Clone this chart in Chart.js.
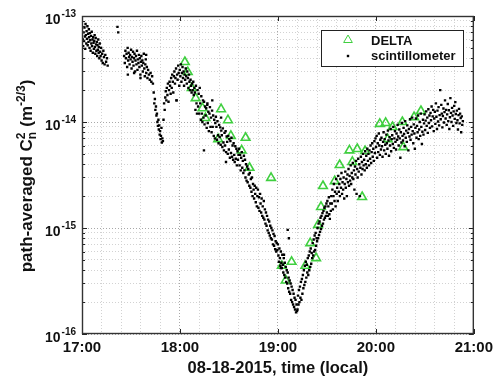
<!DOCTYPE html>
<html>
<head>
<meta charset="utf-8">
<script src="https://cdn.jsdelivr.net/npm/chart.js@4.4.1/dist/chart.umd.min.js"></script>
<style>
html, body { margin: 0; padding: 0; background: #fff; }
</style>
</head>
<body>
<canvas id="myChart" width="498" height="377"></canvas>
<script>
// values are Cn2 in units of 1e-15 m^-2/3, time in decimal hours (local)
var UNIT = 1e-15;

var deltaTime = [18.05, 18.08, 18.12, 18.16, 18.23, 18.26, 18.42, 18.49, 18.39, 18.52, 18.67, 18.63, 18.71, 18.93,
	19.04, 19.08, 19.14, 19.28, 19.39, 19.33, 19.41, 19.44, 19.46, 19.58, 19.63, 19.73, 19.81, 19.89, 19.76, 19.86,
	20.04, 20.10, 20.17, 20.27, 20.39, 20.46, 20.28, 20.12];
var deltaCn2 = [36.8, 29.6, 20.9, 16.8, 13.5, 10.9, 13.2, 10.4, 6.9, 7.4, 7.1, 5.4, 3.7, 2.97,
	0.44, 0.32, 0.48, 0.44, 0.52, 0.72, 1.07, 1.58, 2.49, 2.77, 3.93, 5.4, 5.56, 5.32, 4.2, 1.96,
	9.6, 9.8, 8.97, 10, 11.1, 12.7, 5.8, 6.9];

var scintTime = [
	17.008, 17.012, 17.017, 17.021, 17.025, 17.029, 17.033, 17.036, 17.040, 17.044,
	17.047, 17.051, 17.055, 17.058, 17.062, 17.066, 17.070, 17.073, 17.077, 17.081,
	17.084, 17.088, 17.092, 17.095, 17.099, 17.103, 17.107, 17.110, 17.114, 17.118,
	17.121, 17.125, 17.129, 17.132, 17.136, 17.140, 17.144, 17.147, 17.151, 17.155,
	17.158, 17.162, 17.166, 17.170, 17.173, 17.177, 17.181, 17.185, 17.190, 17.195,
	17.200, 17.206, 17.212, 17.218, 17.224, 17.231, 17.238, 17.246, 17.255, 17.262,
	17.362, 17.370,
	17.430, 17.437, 17.443, 17.449, 17.455, 17.461, 17.466, 17.471, 17.476, 17.481,
	17.486, 17.491, 17.496, 17.501, 17.506, 17.511, 17.516, 17.521, 17.526, 17.531,
	17.536, 17.541, 17.546, 17.551, 17.556, 17.561, 17.566, 17.571, 17.576, 17.581,
	17.586, 17.591, 17.596, 17.601, 17.606, 17.611, 17.616, 17.621, 17.626, 17.631,
	17.636, 17.641, 17.646, 17.651, 17.656, 17.662, 17.668, 17.675, 17.683, 17.692,
	17.700, 17.708, 17.716, 17.724, 17.468, 17.532, 17.597, 17.655,
	17.732, 17.738, 17.744, 17.749, 17.755, 17.760, 17.765, 17.770, 17.775, 17.780,
	17.784, 17.788, 17.793, 17.797, 17.802, 17.806, 17.811, 17.815, 17.820, 17.826,
	17.832, 17.838, 17.844, 17.850, 17.855, 17.861, 17.866, 17.872, 17.877, 17.883,
	17.888, 17.894, 17.899, 17.905, 17.910, 17.916, 17.921, 17.927, 17.932, 17.938,
	17.943, 17.949, 17.954, 17.960, 17.965, 17.971, 17.976, 17.982, 17.987, 17.993,
	17.998, 18.004, 18.009, 18.015, 18.020, 18.026, 18.031, 18.037, 18.042, 18.048,
	18.053, 18.059, 18.064, 18.070, 18.075, 18.081, 18.086, 18.092, 18.097, 18.103,
	18.108, 18.114, 18.119, 18.125, 18.130, 18.136, 18.141, 18.147,
	18.152, 18.158, 18.163, 18.169, 18.174, 18.180, 18.185, 18.191, 18.196, 18.202,
	18.207, 18.213, 18.218, 18.224, 18.229, 18.235, 18.240, 18.246, 18.251, 18.257,
	18.262, 18.268, 18.273, 18.279, 18.284, 18.290, 18.295, 18.301, 18.306, 18.312,
	18.317, 18.323, 18.328, 18.334, 18.339, 18.345, 18.350, 18.356, 18.361, 18.367,
	18.372, 18.378, 18.383, 18.389, 18.394, 18.400, 18.405, 18.411, 18.416, 18.422,
	18.427, 18.433, 18.438, 18.444, 18.449, 18.455, 18.460, 18.466, 18.471, 18.477,
	18.482, 18.488, 18.493, 18.499, 18.504, 18.510, 18.515, 18.521, 18.526, 18.532,
	18.537, 18.543, 18.548, 18.554, 18.559, 18.565, 18.570, 18.576, 18.581, 18.587,
	18.592, 18.598, 18.330, 18.245, 18.470, 17.965, 18.420, 18.280,
	18.603, 18.609, 18.614, 18.620, 18.625, 18.631, 18.636, 18.642, 18.647, 18.653,
	18.658, 18.664, 18.669, 18.675, 18.680, 18.686, 18.691, 18.697, 18.702, 18.708,
	18.713, 18.719, 18.724, 18.730, 18.735, 18.741, 18.746, 18.752, 18.757, 18.763,
	18.768, 18.774, 18.779, 18.785, 18.790, 18.796, 18.801, 18.807, 18.812, 18.818,
	18.823, 18.829, 18.834, 18.840, 18.845, 18.851, 18.856, 18.862, 18.867, 18.873,
	18.878, 18.884, 18.889, 18.895, 18.900, 18.906, 18.911, 18.917, 18.922, 18.928,
	18.933, 18.939, 18.944, 18.950, 18.955, 18.961, 18.966, 18.972, 18.977, 18.983,
	18.988, 18.994,
	19.000, 19.005, 19.010, 19.015, 19.020, 19.025, 19.030, 19.035, 19.040, 19.045,
	19.050, 19.055, 19.060, 19.065, 19.070, 19.075, 19.080, 19.085, 19.090, 19.095,
	19.100, 19.105, 19.110, 19.115, 19.120, 19.125, 19.130, 19.135, 19.140, 19.145,
	19.150, 19.155, 19.160, 19.165, 19.170, 19.175, 19.180, 19.185, 19.190, 19.195,
	19.100, 19.112, 19.030, 19.062,
	19.200, 19.205, 19.210, 19.215, 19.220, 19.225, 19.230, 19.235, 19.240, 19.245,
	19.250, 19.255, 19.260, 19.265, 19.270, 19.275, 19.280, 19.285, 19.290, 19.295,
	19.300, 19.305, 19.310, 19.315, 19.320, 19.325, 19.330, 19.335, 19.340, 19.345,
	19.350, 19.355, 19.360, 19.365, 19.370, 19.375, 19.380, 19.385, 19.390, 19.395,
	19.400, 19.405, 19.410, 19.415, 19.420, 19.425, 19.430, 19.435, 19.440, 19.445,
	19.450, 19.455, 19.460, 19.465, 19.470, 19.475, 19.480, 19.485, 19.490, 19.495,
	19.500, 19.505, 19.510, 19.515, 19.520, 19.525, 19.530, 19.535, 19.540, 19.545,
	19.550, 19.556, 19.561, 19.567, 19.572, 19.578, 19.583, 19.589, 19.594, 19.600,
	19.605, 19.611, 19.616, 19.622, 19.627, 19.633, 19.638, 19.644, 19.649, 19.655,
	19.660, 19.666, 19.671, 19.677, 19.682, 19.688, 19.693, 19.699, 19.704, 19.710,
	19.715, 19.721, 19.726, 19.732, 19.737, 19.743, 19.748, 19.754, 19.759, 19.765,
	19.770, 19.776, 19.781, 19.787, 19.792, 19.798, 19.803, 19.809, 19.814, 19.820,
	19.825, 19.831, 19.836, 19.842, 19.847, 19.853, 19.858, 19.864, 19.869, 19.875,
	19.880, 19.886, 19.891, 19.897, 19.902, 19.908, 19.913, 19.919, 19.924, 19.930,
	19.935, 19.941, 19.946, 19.952, 19.957, 19.963, 19.968, 19.974, 19.979, 19.985,
	19.990, 19.996,
	20.002, 20.008, 20.013, 20.019, 20.024, 20.030, 20.035, 20.041, 20.046, 20.052,
	20.057, 20.063, 20.068, 20.074, 20.079, 20.085, 20.090, 20.096, 20.101, 20.107,
	20.112, 20.118, 20.123, 20.129, 20.134, 20.140, 20.145, 20.151, 20.156, 20.162,
	20.167, 20.173, 20.178, 20.184, 20.189, 20.195, 20.200, 20.206, 20.211, 20.217,
	20.222, 20.228, 20.233, 20.239, 20.244, 20.250, 20.255, 20.261, 20.266, 20.272,
	20.277, 20.283, 20.288, 20.294, 20.299, 20.305, 20.310, 20.316, 20.321, 20.327,
	20.332, 20.338, 20.343, 20.349, 20.354, 20.360, 20.365, 20.371, 20.376, 20.382,
	20.387, 20.393, 20.398, 20.404, 20.409, 20.415, 20.420, 20.426, 20.431, 20.437,
	20.442, 20.448, 20.453, 20.459, 20.464, 20.470, 20.475, 20.481, 20.486, 20.492,
	20.497, 20.503, 20.508, 20.514, 20.519, 20.525, 20.530, 20.536, 20.541, 20.547,
	20.552, 20.558, 20.563, 20.569, 20.574, 20.580, 20.585, 20.591, 20.596, 20.602,
	20.607, 20.613, 20.618, 20.624, 20.629, 20.635, 20.640, 20.646, 20.651, 20.657,
	20.662, 20.668, 20.673, 20.679, 20.684, 20.690, 20.695, 20.701, 20.706, 20.712,
	20.717, 20.723, 20.728, 20.734, 20.739, 20.745, 20.750, 20.756, 20.761, 20.767,
	20.772, 20.778, 20.783, 20.789, 20.794, 20.800, 20.805, 20.811, 20.816, 20.822,
	20.827, 20.833, 20.838, 20.844, 20.849, 20.855, 20.860, 20.866, 20.871, 20.877,
	20.882, 20.888
];
var scintCn2 = [
	60, 52, 70, 58, 78, 64, 49, 84, 66, 55,
	72, 61, 80, 53, 68, 57, 75, 63, 50, 69,
	59, 47, 65, 55, 71, 52, 60, 45, 63, 56,
	49, 58, 66, 51, 44, 62, 54, 47, 57, 42,
	53, 48, 60, 45, 51, 40, 55, 46, 42, 50,
	38, 44, 36, 47, 41, 35, 43, 37, 40, 34,
	79, 70,
	42, 36, 47, 40, 44, 33, 50, 38, 45, 41,
	35, 43, 39, 48, 32, 41, 37, 46, 34, 40,
	44, 30, 38, 42, 35, 47, 31, 39, 36, 43,
	33, 40, 28, 37, 42, 34, 38, 30, 36, 44,
	32, 27, 35, 39, 29, 33, 26, 31, 28, 25,
	29, 24, 27, 23, 28, 29, 26, 43,
	19, 15, 16.5, 13, 14, 11.5, 12, 10, 9.2, 10.5,
	8.5, 9.3, 7.6, 8.2, 6.9, 7.4, 8.8, 6.4, 7.0, 6.6,
	10.5, 15, 13, 17, 19.5, 16, 21, 18, 23, 15.5,
	20, 24, 22, 18.5, 26, 21, 28, 24, 19, 27,
	30, 23, 26, 32, 16, 28, 25, 34, 29, 22,
	31, 27, 35, 24, 29, 33, 26, 30, 22, 28,
	25, 32, 27, 23, 30, 26, 21, 28, 24, 20,
	25, 22, 19, 23, 20, 24, 18, 21,
	19, 13, 22, 15, 12, 20, 14, 18.5, 12, 21,
	15, 10.5, 17.5, 12, 10, 16, 11, 15.5, 9.5, 14,
	11.5, 13.5, 8.8, 14.5, 9.8, 12.5, 8.2, 12, 13.8, 9,
	11, 8, 12.8, 9, 11.5, 7.4, 10.5, 7, 9.8, 11.2,
	9, 6.8, 10.2, 7.5, 6.3, 9.4, 7.2, 8.9, 6.1, 8.3,
	7.5, 5.8, 8.7, 6.4, 5.4, 7.9, 6.0, 8.2, 5.2, 7.3,
	6.5, 5.0, 7.4, 5.5, 6.9, 4.6, 6.6, 5.1, 7.1, 4.7,
	6.0, 4.4, 6.3, 4.9, 4.2, 5.9, 4.5, 5.6, 3.9, 5.3,
	4.4, 4.9, 16, 5.4, 4.2, 16, 11, 15,
	5.6, 3.9, 4.9, 3.5, 4.6, 5.2, 3.7, 4.3, 3.3, 4.8,
	3.5, 4.4, 3.0, 4.0, 2.8, 3.8, 2.7, 3.6, 3.2, 2.5,
	3.3, 2.4, 2.9, 2.2, 3.0, 2.0, 2.6, 2.3, 1.9, 2.5,
	2.1, 1.75, 2.4, 1.6, 2.0, 2.3, 1.55, 1.95, 1.45, 2.1,
	1.7, 1.4, 1.9, 1.3, 1.6, 1.25, 1.8, 1.2, 1.5, 1.1,
	1.4, 1.05, 1.3, 0.95, 1.2, 0.9, 1.15, 0.85, 1.05, 0.8,
	1.0, 0.78, 0.95, 0.7, 0.88, 0.68, 0.84, 0.63, 0.75, 0.6,
	0.72, 0.62,
	0.7, 0.55, 0.48, 0.64, 0.52, 0.44, 0.6, 0.47, 0.42, 0.56,
	0.45, 0.38, 0.52, 0.36, 0.47, 0.34, 0.43, 0.31, 0.4, 0.3,
	0.38, 0.27, 0.34, 0.25, 0.32, 0.24, 0.3, 0.21, 0.28, 0.2,
	0.26, 0.19, 0.24, 0.18, 0.22, 0.17, 0.21, 0.16, 0.19, 0.165,
	0.96, 0.8, 0.42, 0.56,
	0.17, 0.23, 0.19, 0.26, 0.2, 0.28, 0.22, 0.31, 0.21, 0.33,
	0.24, 0.36, 0.27, 0.4, 0.29, 0.44, 0.31, 0.48, 0.34, 0.45,
	0.38, 0.52, 0.36, 0.55, 0.4, 0.6, 0.43, 0.64, 0.46, 0.58,
	0.52, 0.72, 0.55, 0.78, 0.6, 0.85, 0.62, 0.9, 0.68, 0.8,
	0.75, 1.0, 0.8, 1.1, 0.86, 1.15, 0.92, 1.25, 0.98, 1.3,
	1.05, 1.38, 1.1, 1.45, 1.2, 1.55, 1.25, 1.6, 1.3, 1.7,
	1.4, 1.8, 1.3, 1.6, 1.95, 1.35, 1.22, 1.7, 1.45, 2.0,
	1.7, 2.3, 1.5, 2.0, 2.6, 1.8, 2.2, 1.6, 2.9, 2.1,
	2.4, 1.8, 3.1, 2.2, 2.6, 2.0, 2.9, 2.4, 3.3, 2.1,
	2.7, 2.3, 3.0, 1.9, 2.6, 3.4, 2.4, 2.9, 2.0, 3.2,
	2.7, 3.6, 2.5, 3.1, 2.8, 3.9, 2.6, 3.3, 3.0, 4.1,
	2.9, 3.5, 2.3, 3.8, 3.2, 4.3, 2.1, 3.6, 3.0, 4.5,
	3.4, 4.0, 2.0, 3.7, 4.7, 3.2, 4.2, 3.6, 5.0, 3.9,
	4.4, 3.5, 5.3, 4.0, 4.8, 3.7, 5.6, 4.3, 5.0, 3.9,
	5.4, 4.5, 6.0, 4.1, 5.2, 6.3, 4.7, 5.6, 4.3, 6.6,
	5.1, 7.0,
	5.8, 7.4, 4.6, 6.3, 5.2, 7.8, 6.0, 4.9, 6.8, 5.5,
	7.1, 5.9, 4.7, 6.5, 8.0, 5.4, 6.9, 6.1, 5.0, 7.6,
	6.3, 5.6, 8.3, 6.7, 4.8, 7.2, 6.0, 8.6, 5.3, 6.9,
	7.5, 6.2, 9.0, 5.7, 7.0, 8.2, 6.5, 5.5, 7.8, 6.8,
	9.4, 7.3, 6.0, 8.5, 7.0, 4.6, 8.0, 6.4, 9.8, 7.4,
	6.7, 8.8, 7.7, 5.9, 10.2, 7.1, 8.3, 6.5, 9.3, 7.9,
	5.4, 8.6, 7.3, 10.6, 6.8, 9.0, 7.6, 11.0, 8.2, 6.3,
	9.5, 7.8, 5.6, 8.8, 10.8, 7.1, 9.2, 8.0, 11.5, 6.9,
	8.5, 10.0, 7.4, 12.0, 9.0, 6.2, 8.1, 10.5, 7.6, 9.7,
	11.8, 8.4, 10.3, 12.6, 9.2, 11.0, 7.9, 13.2, 9.8, 11.5,
	8.8, 12.2, 10.4, 14.0, 9.1, 11.3, 13.0, 8.2, 10.8, 12.5,
	9.6, 15.0, 11.2, 8.6, 12.8, 10.1, 13.8, 9.3, 11.6, 20.0,
	10.6, 14.5, 12.0, 8.9, 11.4, 13.4, 9.9, 12.4, 16.0, 10.8,
	13.0, 9.4, 11.8, 14.8, 10.2, 12.9, 8.6, 11.1, 16.8, 12.2,
	10.0, 13.6, 11.5, 9.2, 12.6, 14.2, 10.7, 15.4, 11.9, 9.8,
	12.8, 10.4, 8.5, 11.6, 13.3, 9.7, 12.0, 10.9, 8.0, 11.3,
	9.4, 10.2
];

var xHours = [17, 18, 19, 20, 21];
var yDecades = [-16, -15, -14, -13];
var xTitle = "08-18-2015, time (local)";

var FONT = '"Liberation Sans", Arial, sans-serif';
var green = "#3fcf3f";

var scintPoints = [];
for (var i = 0; i < scintTime.length; i++) {
	scintPoints.push({ x: scintTime[i], y: scintCn2[i] * UNIT });
}
var deltaPoints = [];
for (var k = 0; k < deltaTime.length; k++) {
	deltaPoints.push({ x: deltaTime[k], y: deltaCn2[k] * UNIT });
}

// y grid: every 1..9 x decade
var yTickValues = [];
yDecades.forEach(function (e) {
	for (var m = 1; m <= 9; m++) {
		if (e == -13 && m > 1) break;
		yTickValues.push(m * Math.pow(10, e));
	}
});
function isDecade(v) {
	var l = Math.log10(v);
	return Math.abs(l - Math.round(l)) < 1e-6;
}
function isHour(v) {
	return Math.abs(v - Math.round(v)) < 1e-6;
}

var frame = {
	id: "frame",
	afterDatasetsDraw: function (chart) {
		var ctx = chart.ctx, a = chart.chartArea;
		var xs = chart.scales.x, ys = chart.scales.y;
		ctx.save();

		// inward ticks
		ctx.strokeStyle = "#222";
		ctx.lineWidth = 1;
		ctx.beginPath();
		yTickValues.forEach(function (v) {
			var py = Math.round(ys.getPixelForValue(v)) + 0.5;
			var len = isDecade(v) ? 5 : 3;
			ctx.moveTo(a.left, py); ctx.lineTo(a.left + len, py);
			ctx.moveTo(a.right, py); ctx.lineTo(a.right - len, py);
		});
		xHours.forEach(function (h) {
			var px = Math.round(xs.getPixelForValue(h)) + 0.5;
			ctx.moveTo(px, a.bottom); ctx.lineTo(px, a.bottom - 5);
			ctx.moveTo(px, a.top); ctx.lineTo(px, a.top + 5);
		});
		ctx.stroke();

		// box
		ctx.lineWidth = 1.4;
		ctx.strokeStyle = "#333";
		ctx.strokeRect(a.left + 0.5, a.top + 0.5, a.right - a.left - 1, a.bottom - a.top - 1);

		// y tick labels 10^e
		ctx.fillStyle = "#111";
		ctx.textBaseline = "alphabetic";
		ctx.textAlign = "left";
		yDecades.forEach(function (e) {
			var py = ys.getPixelForValue(Math.pow(10, e));
			ctx.font = "bold 10px " + FONT;
			var sup = String(e);
			var ws = ctx.measureText(sup).width;
			ctx.font = "bold 14px " + FONT;
			var wb = ctx.measureText("10").width;
			var right = a.left - 6;
			ctx.fillText("10", right - ws - wb - 1, py + 8);
			ctx.font = "bold 10px " + FONT;
			ctx.fillText(sup, right - ws, py + 1);
		});

		// x title
		ctx.font = "bold 16.5px " + FONT;
		ctx.textAlign = "center";
		ctx.fillText(xTitle, (a.left + a.right) / 2, 373);

		// y title with sub/superscripts
		var big = "bold 17px " + FONT, small = "bold 12px " + FONT;
		var parts = [
			{ t: "path-averaged C", f: big, dy: 0 },
			{ t: "2", f: small, dy: -7, stackSub: "n" },
			{ t: " (m", f: big, dy: 0 },
			{ t: "-2/3", f: small, dy: -7 },
			{ t: ")", f: big, dy: 0 }
		];
		var total = 0;
		parts.forEach(function (p) {
			ctx.font = p.f;
			p.w = ctx.measureText(p.t).width + (p.stackSub ? 1 : 0);
			total += p.w;
		});
		ctx.save();
		ctx.translate(32, (a.top + a.bottom) / 2 + 1);
		ctx.rotate(-Math.PI / 2);
		ctx.textAlign = "left";
		var x = -total / 2;
		parts.forEach(function (p) {
			ctx.font = p.f;
			ctx.fillText(p.t, x, p.dy);
			if (p.stackSub) ctx.fillText(p.stackSub, x, 4);
			x += p.w;
		});
		ctx.restore();

		// legend
		var lx = 321.5, ly = 30.5, lw = 142, lh = 36;
		ctx.fillStyle = "#fff";
		ctx.fillRect(lx, ly, lw, lh);
		ctx.lineWidth = 1;
		ctx.strokeStyle = "#222";
		ctx.strokeRect(lx, ly, lw, lh);
		ctx.strokeStyle = green;
		ctx.fillStyle = "rgba(0,0,0,0)";
		Chart.helpers.drawPoint(ctx, { pointStyle: "triangle", rotation: 0, radius: 5, borderWidth: 1.6 }, 348, 40);
		ctx.fillStyle = "#000";
		Chart.helpers.drawPoint(ctx, { pointStyle: "rect", rotation: 0, radius: 1.7, borderWidth: 0 }, 348, 56);
		ctx.fillStyle = "#111";
		ctx.font = "bold 13px " + FONT;
		ctx.textAlign = "left";
		ctx.fillText("DELTA", 371, 45);
		ctx.fillText("scintillometer", 371, 60);

		ctx.restore();
	}
};

var ctx = document.getElementById("myChart");

var myChart = new Chart(ctx, {
	type: "scatter",
	data: {
		datasets: [
			{
				label: "DELTA",
				data: deltaPoints,
				pointStyle: "triangle",
				pointRadius: 5,
				borderColor: green,
				backgroundColor: "rgba(0,0,0,0)",
				borderWidth: 1.6,
				order: 1
			},
			{
				label: "scintillometer",
				data: scintPoints,
				pointStyle: "rect",
				pointRadius: 1.7,
				backgroundColor: "#000",
				borderColor: "#000",
				borderWidth: 0,
				order: 0
			}
		]
	},
	options: {
		responsive: false,
		animation: false,
		devicePixelRatio: 1,
		events: [],
		layout: { padding: { left: 82, right: 20, top: 16, bottom: 0 } },
		plugins: {
			legend: { display: false },
			tooltip: { enabled: false }
		},
		scales: {
			x: {
				type: "linear",
				min: 17,
				max: 21,
				afterBuildTicks: function (scale) {
					var t = [];
					for (var i = 0; i <= 20; i++) t.push({ value: 17 + i / 5 });
					scale.ticks = t;
				},
				afterFit: function (scale) { scale.height = 43; },
				ticks: {
					autoSkip: false,
					maxRotation: 0,
					padding: 5,
					color: "#111",
					font: { family: FONT, size: 15, weight: "bold" },
					callback: function (v) {
						return isHour(v) ? Math.round(v) + ":00" : "";
					}
				},
				grid: {
					drawTicks: false,
					color: function (c) { return c.tick && isHour(c.tick.value) ? "#a8a8a8" : "#d2d2d2"; }
				},
				border: { display: false, dash: [1, 2] }
			},
			y: {
				type: "logarithmic",
				min: 1e-16,
				max: 1e-13,
				afterBuildTicks: function (scale) {
					scale.ticks = yTickValues.map(function (v) { return { value: v }; });
				},
				afterFit: function (scale) { scale.width = 0; },
				ticks: { display: false },
				grid: {
					drawTicks: false,
					color: function (c) { return c.tick && isDecade(c.tick.value) ? "#a8a8a8" : "#d2d2d2"; }
				},
				border: { display: false, dash: [1, 2] }
			}
		}
	},
	plugins: [frame]
});
</script>
</body>
</html>
